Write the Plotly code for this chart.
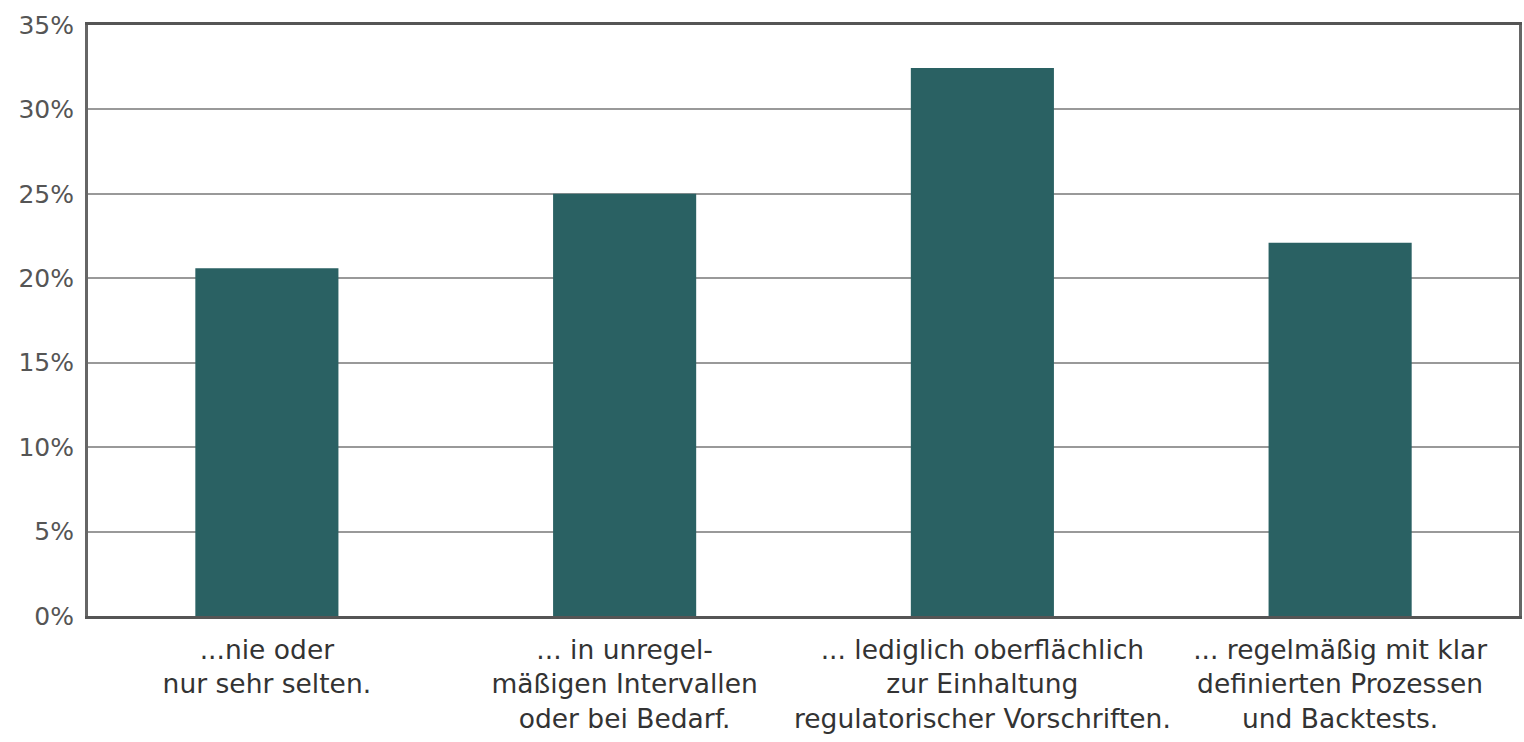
import plotly.graph_objects as go

categories = [
    "...nie oder<br>nur sehr selten.",
    "... in unregel-<br>mäßigen Intervallen<br>oder bei Bedarf.",
    "... lediglich oberflächlich<br>zur Einhaltung<br>regulatorischer Vorschriften.",
    "... regelmäßig mit klar<br>definierten Prozessen<br>und Backtests.",
]
values = [20.6, 25.0, 32.45, 22.1]
tick_vals = [0, 5, 10, 15, 20, 25, 30, 35]
tick_text = ["0%", "5%", "10%", "15%", "20%", "25%", "30%", "35%"]

fig = go.Figure(
    go.Bar(
        x=categories,
        y=values,
        marker=dict(color="#2a6163", line=dict(width=0)),
        width=0.4,
        hoverinfo="skip",
    )
)

fig.update_layout(
    width=1524,
    height=742,
    margin=dict(l=88, r=2, t=25, b=126),
    paper_bgcolor="white",
    plot_bgcolor="white",
    showlegend=False,
    font=dict(family="DejaVu Sans, sans-serif", color="#444", size=25),
)
fig.update_xaxes(
    showline=True,
    linecolor="#555",
    linewidth=3,
    mirror=True,
    ticks="",
    ticklabelstandoff=8,
    tickfont=dict(size=26.5, color="#333"),
)
fig.update_yaxes(
    range=[0, 35],
    tickvals=tick_vals,
    ticktext=tick_text,
    showgrid=True,
    gridcolor="#999",
    gridwidth=2,
    zeroline=False,
    showline=True,
    linecolor="#666",
    linewidth=3,
    mirror=True,
    ticks="",
    ticklabelstandoff=6,
    tickfont=dict(size=25, color="#555"),
)

fig.write_html("out.html")
